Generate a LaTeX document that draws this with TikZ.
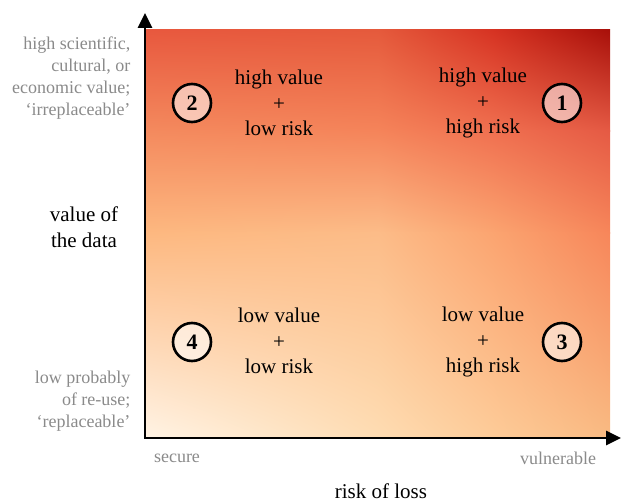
\documentclass[tikz,border=0pt]{standalone}
\usepackage{fontspec}
\setmainfont{Liberation Serif}
\usetikzlibrary{arrows.meta,shadings}

% gradient colours on a grid: columns a..d (x = 146, 378, 494, 610),
% rows 1..4 (y = 30, 131, 233, 437)
\definecolor{a1}{HTML}{E8583E}\definecolor{b1}{HTML}{E55A3C}
\definecolor{c1}{HTML}{D63222}\definecolor{d1}{HTML}{A8100A}
\definecolor{a2}{HTML}{F48A5E}\definecolor{b2}{HTML}{F5845A}
\definecolor{c2}{HTML}{F07050}\definecolor{d2}{HTML}{E55A44}
\definecolor{a3}{HTML}{FDB880}\definecolor{b3}{HTML}{FCBC88}
\definecolor{c3}{HTML}{FBA470}\definecolor{d3}{HTML}{F7865A}
\definecolor{a4}{HTML}{FFF3E4}\definecolor{b4}{HTML}{FEDCB2}
\definecolor{c4}{HTML}{FDCB98}\definecolor{d4}{HTML}{F9BA82}
\definecolor{labelgray}{HTML}{8A8A8A}

% one bilinear patch: corners x1,y1,x2,y2 then colours UL,UR,LL,LR
\newcommand{\gradpatch}[8]{%
  \shade[upper left=#5, upper right=#6, lower left=#7, lower right=#8]
    (#1,#2) rectangle (#3,#4);}

\tikzset{
  quad/.style={align=center, font=\fontsize{21}{25.5}\selectfont},
  sidelabel/.style={align=right, anchor=east, text=labelgray,
                    font=\fontsize{18}{22}\selectfont},
  endlabel/.style={text=labelgray, font=\fontsize{18}{22}\selectfont},
  axistitle/.style={align=center, font=\fontsize{21}{26}\selectfont},
  badge/.style={circle, draw=black, line width=2.6pt, minimum size=38pt,
                inner sep=0pt, fill=white, fill opacity=0.55, text opacity=1,
                font=\fontsize{22}{22}\selectfont\bfseries},
  axis/.style={line width=2.7pt, {Triangle[length=15pt,width=14pt]}-{Triangle[length=15pt,width=14pt]}}
}

\begin{document}
\begin{tikzpicture}[x=1pt, y=-1pt]
  \useasboundingbox (0,0) rectangle (622,502);

  % background gradient
  \gradpatch{146}{30}{378.5}{131.5}{a1}{b1}{a2}{b2}
  \gradpatch{378}{30}{494.5}{131.5}{b1}{c1}{b2}{c2}
  \gradpatch{494}{30}{610}{131.5}{c1}{d1}{c2}{d2}
  \gradpatch{146}{131}{378.5}{233.5}{a2}{b2}{a3}{b3}
  \gradpatch{378}{131}{494.5}{233.5}{b2}{c2}{b3}{c3}
  \gradpatch{494}{131}{610}{233.5}{c2}{d2}{c3}{d3}
  \gradpatch{146}{233}{378.5}{437}{a3}{b3}{a4}{b4}
  \gradpatch{378}{233}{494.5}{437}{b3}{c3}{b4}{c4}
  \gradpatch{494}{233}{610}{437}{c3}{d3}{c4}{d4}

  % axes
  \coordinate (ytip) at (145,13);
  \coordinate (origin) at (145,438);
  \coordinate (xtip) at (621,438);
  \draw[axis] (ytip) -- (origin) -- (xtip);

  % quadrant badges
  \node[badge] (b1) at (562,103) {1};
  \node[badge] (b2) at (192,103) {2};
  \node[badge] (b3) at (562,342) {3};
  \node[badge] (b4) at (192,342) {4};

  % quadrant descriptions
  \node[quad] (q2) at (279,103) {high value\\+\\low risk};
  \node[quad] (q1) at (483,103) {high value\\+\\high risk};
  \node[quad] (q4) at (279,341) {low value\\+\\low risk};
  \node[quad] (q3) at (483,342) {low value\\+\\high risk};

  % vertical axis labels
  \node[sidelabel] (vhigh) at (134,78)
    {high scientific,\\cultural, or\\economic value;\\‘irreplaceable’};
  \node[sidelabel] (vlow) at (134,401)
    {low probably\\of re-use;\\‘replaceable’};
  \node[axistitle] (vtitle) at (84,227) {value of\\the data};

  % horizontal axis labels
  \node[endlabel] (secure) at (177,458) {secure};
  \node[endlabel] (vuln) at (558,458) {vulnerable};
  \node[axistitle] (htitle) at (381,491) {risk of loss};
\end{tikzpicture}
\end{document}
